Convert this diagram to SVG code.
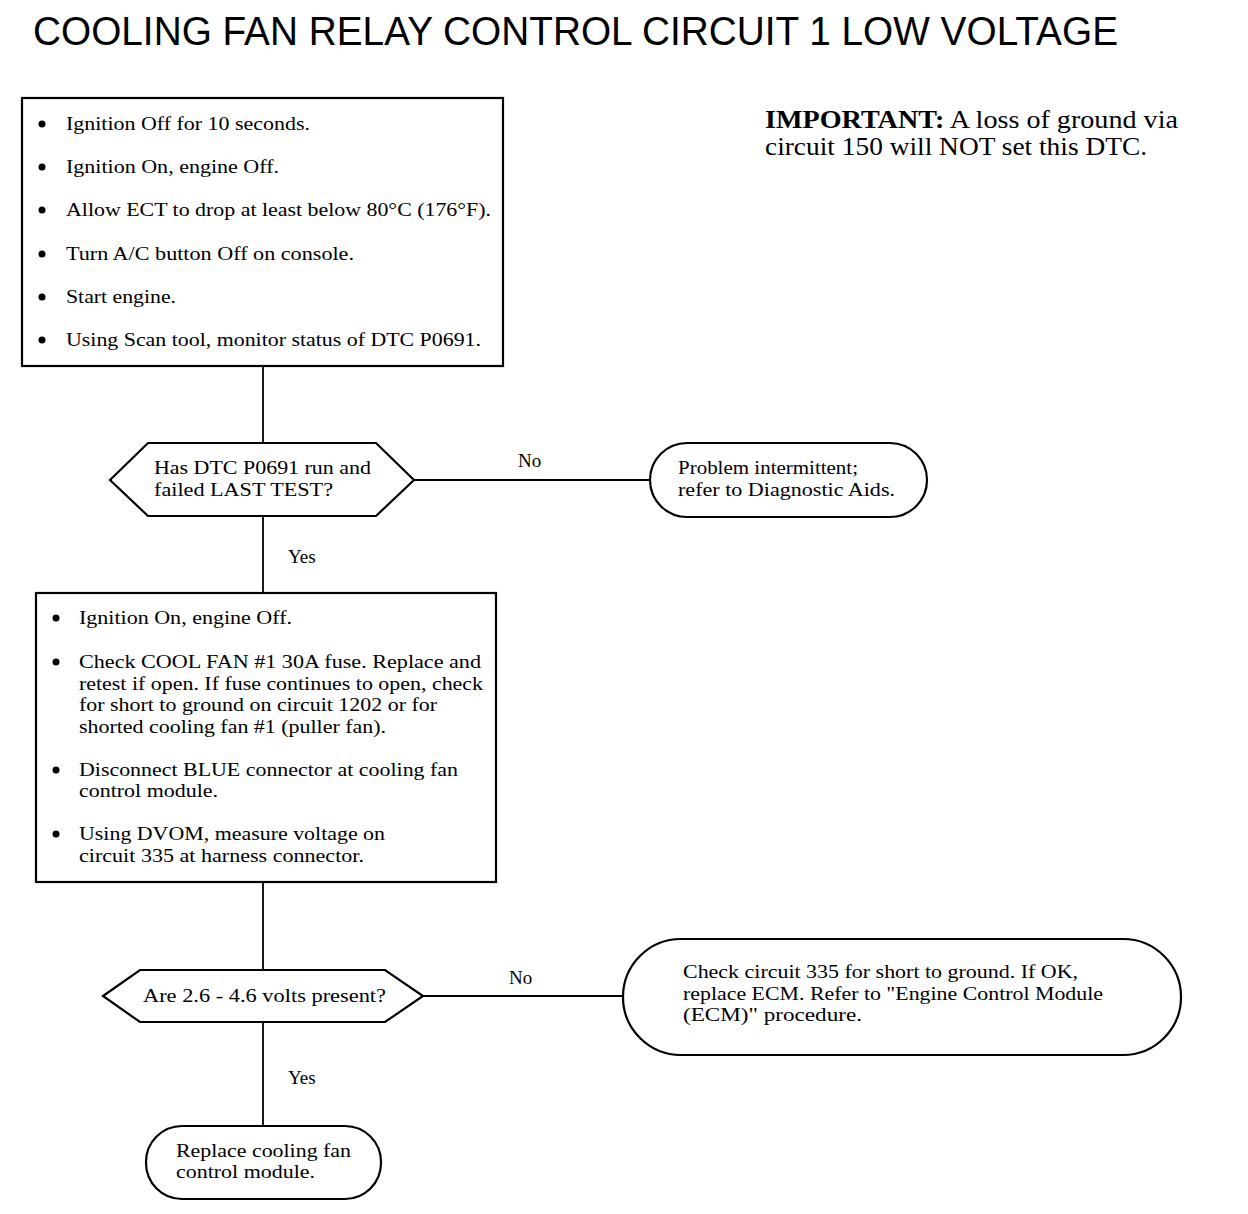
<svg xmlns="http://www.w3.org/2000/svg" width="1248" height="1214" viewBox="0 0 1248 1214">
<style>
.t{font-family:"Liberation Serif","Times New Roman",serif;font-size:19px;fill:#000}
.ti{font-family:"Liberation Sans",Arial,sans-serif;font-size:41px;fill:#000}
.imp{font-family:"Liberation Serif","Times New Roman",serif;font-size:25px;fill:#000}
.shape{fill:#fff;stroke:#000;stroke-width:2.2}
.ln{fill:none;stroke:#000;stroke-width:1.8}
.b{fill:#000}
</style>
<rect width="1248" height="1214" fill="#fff"/>
<text class="ti" x="33" y="45" textLength="1085" lengthAdjust="spacingAndGlyphs">COOLING FAN RELAY CONTROL CIRCUIT 1 LOW VOLTAGE</text>
<g id="important">
<text class="imp" x="765" y="128" textLength="413" lengthAdjust="spacingAndGlyphs"><tspan font-weight="bold">IMPORTANT:</tspan> A loss of ground via</text>
<text class="imp" x="765" y="155" textLength="382" lengthAdjust="spacingAndGlyphs">circuit 150 will NOT set this DTC.</text>
</g>
<g id="connectors">
<line class="ln" x1="263" y1="366" x2="263" y2="443"/>
<line class="ln" x1="414" y1="480" x2="650" y2="480"/>
<line class="ln" x1="263" y1="516" x2="263" y2="593"/>
<line class="ln" x1="263" y1="882" x2="263" y2="970"/>
<line class="ln" x1="423" y1="996" x2="623" y2="996"/>
<line class="ln" x1="263" y1="1022" x2="263" y2="1126"/>
<text class="t" x="518" y="467">No</text>
<text class="t" x="288" y="563">Yes</text>
<text class="t" x="509" y="984">No</text>
<text class="t" x="288" y="1084">Yes</text>
</g>
<g id="box1">
<rect class="shape" x="22" y="98" width="481" height="268"/>
<circle class="b" cx="42" cy="124" r="3.5"/>
<circle class="b" cx="42" cy="167" r="3.5"/>
<circle class="b" cx="42" cy="210" r="3.5"/>
<circle class="b" cx="42" cy="254" r="3.5"/>
<circle class="b" cx="42" cy="297" r="3.5"/>
<circle class="b" cx="42" cy="340" r="3.5"/>
<text class="t" x="66" y="130" textLength="244" lengthAdjust="spacingAndGlyphs">Ignition Off for 10 seconds.</text>
<text class="t" x="66" y="173" textLength="213" lengthAdjust="spacingAndGlyphs">Ignition On, engine Off.</text>
<text class="t" x="66" y="216" textLength="425" lengthAdjust="spacingAndGlyphs">Allow ECT to drop at least below 80°C (176°F).</text>
<text class="t" x="66" y="260" textLength="288" lengthAdjust="spacingAndGlyphs">Turn A/C button Off on console.</text>
<text class="t" x="66" y="303" textLength="110" lengthAdjust="spacingAndGlyphs">Start engine.</text>
<text class="t" x="66" y="346" textLength="415" lengthAdjust="spacingAndGlyphs">Using Scan tool, monitor status of DTC P0691.</text>
</g>
<g id="decision1">
<polygon class="shape" points="110,480 148,443 376,443 414,480 376,516 148,516"/>
<text class="t" x="154" y="474" textLength="217" lengthAdjust="spacingAndGlyphs">Has DTC P0691 run and</text>
<text class="t" x="154" y="496" textLength="179" lengthAdjust="spacingAndGlyphs">failed LAST TEST?</text>
</g>
<g id="terminal1">
<rect class="shape" x="650" y="443" width="277" height="74" rx="37" ry="37"/>
<text class="t" x="678" y="474" textLength="180" lengthAdjust="spacingAndGlyphs">Problem intermittent;</text>
<text class="t" x="678" y="496" textLength="217" lengthAdjust="spacingAndGlyphs">refer to Diagnostic Aids.</text>
</g>
<g id="box2">
<rect class="shape" x="36" y="593" width="460" height="289"/>
<circle class="b" cx="56" cy="618" r="3.5"/>
<circle class="b" cx="56" cy="662" r="3.5"/>
<circle class="b" cx="56" cy="770" r="3.5"/>
<circle class="b" cx="56" cy="834" r="3.5"/>
<text class="t" x="79" y="624" textLength="213" lengthAdjust="spacingAndGlyphs">Ignition On, engine Off.</text>
<text class="t" x="79" y="668" textLength="402" lengthAdjust="spacingAndGlyphs">Check COOL FAN #1 30A fuse. Replace and</text>
<text class="t" x="79" y="690" textLength="404" lengthAdjust="spacingAndGlyphs">retest if open. If fuse continues to open, check</text>
<text class="t" x="79" y="711" textLength="358" lengthAdjust="spacingAndGlyphs">for short to ground on circuit 1202 or for</text>
<text class="t" x="79" y="733" textLength="307" lengthAdjust="spacingAndGlyphs">shorted cooling fan #1 (puller fan).</text>
<text class="t" x="79" y="776" textLength="379" lengthAdjust="spacingAndGlyphs">Disconnect BLUE connector at cooling fan</text>
<text class="t" x="79" y="797" textLength="139" lengthAdjust="spacingAndGlyphs">control module.</text>
<text class="t" x="79" y="840" textLength="306" lengthAdjust="spacingAndGlyphs">Using DVOM, measure voltage on</text>
<text class="t" x="79" y="862" textLength="285" lengthAdjust="spacingAndGlyphs">circuit 335 at harness connector.</text>
</g>
<g id="decision2">
<polygon class="shape" points="103,996 140,970 385,970 423,996 385,1022 140,1022"/>
<text class="t" x="143" y="1002" textLength="243" lengthAdjust="spacingAndGlyphs">Are 2.6 - 4.6 volts present?</text>
</g>
<g id="terminal2">
<rect class="shape" x="623" y="939" width="558" height="116" rx="58" ry="58"/>
<text class="t" x="683" y="978" textLength="395" lengthAdjust="spacingAndGlyphs">Check circuit 335 for short to ground. If OK,</text>
<text class="t" x="683" y="1000" textLength="420" lengthAdjust="spacingAndGlyphs">replace ECM. Refer to "Engine Control Module</text>
<text class="t" x="683" y="1021" textLength="179" lengthAdjust="spacingAndGlyphs">(ECM)" procedure.</text>
</g>
<g id="terminal3">
<rect class="shape" x="146" y="1126" width="235" height="73" rx="36" ry="36"/>
<text class="t" x="176" y="1157" textLength="175" lengthAdjust="spacingAndGlyphs">Replace cooling fan</text>
<text class="t" x="176" y="1178" textLength="139" lengthAdjust="spacingAndGlyphs">control module.</text>
</g>
</svg>
